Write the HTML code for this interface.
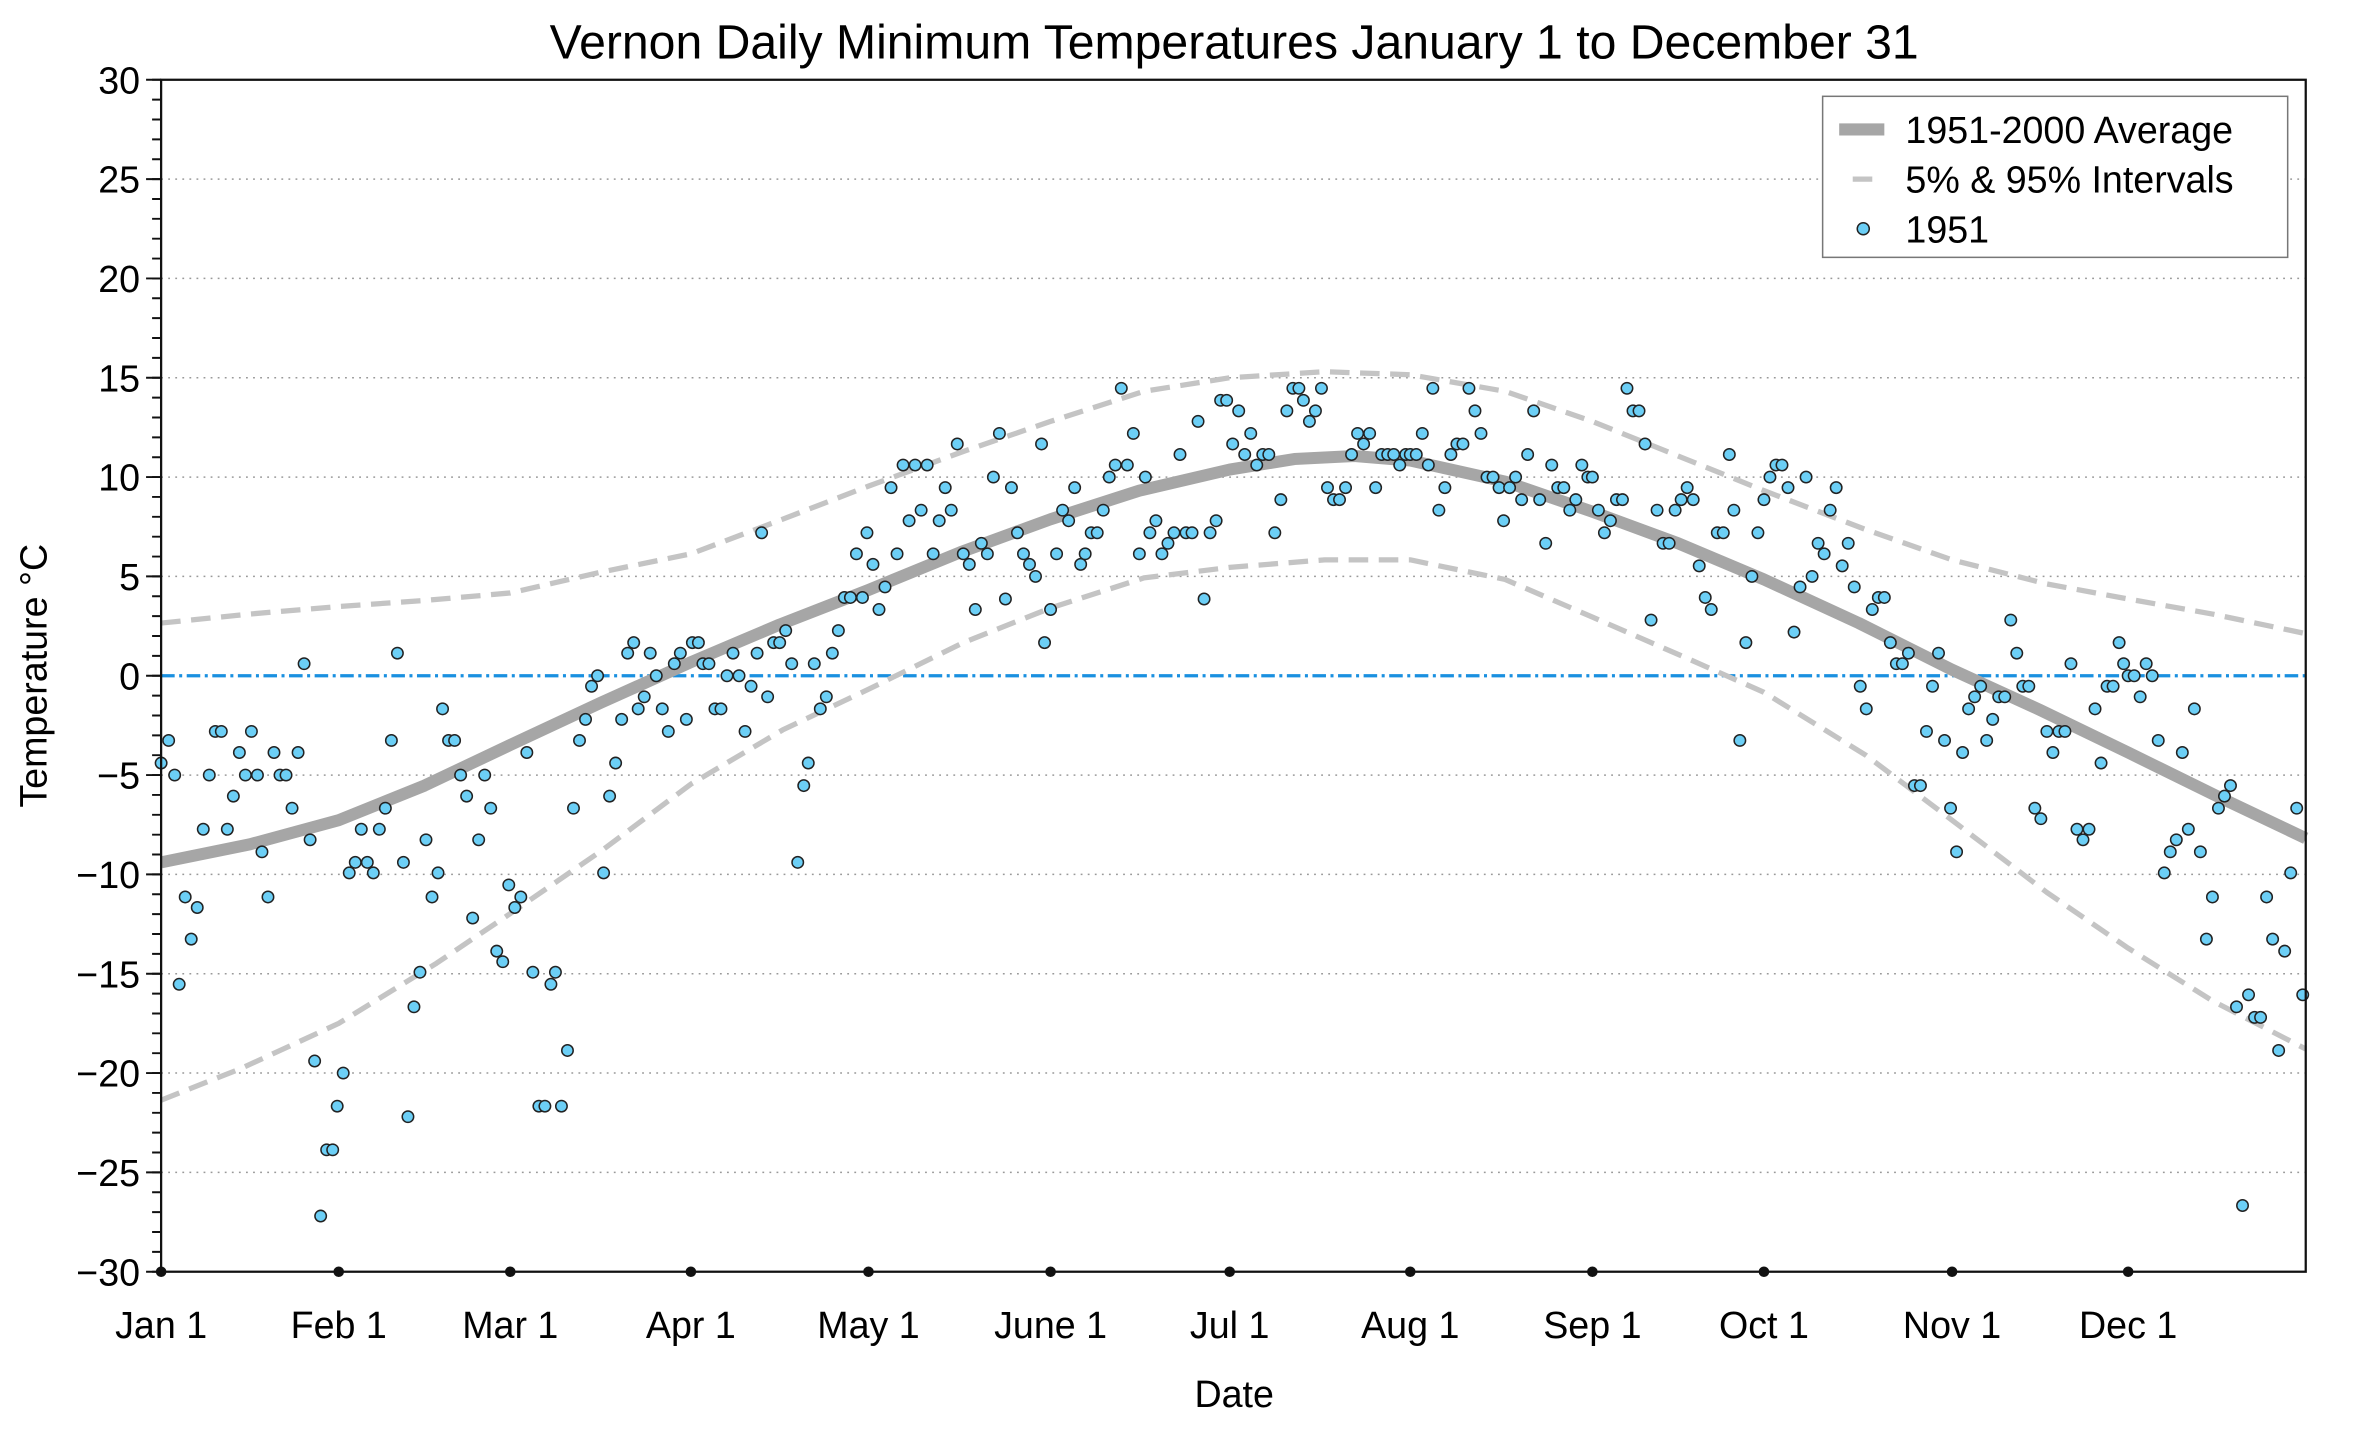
<!DOCTYPE html>
<html><head><meta charset="utf-8"><style>
html,body{margin:0;padding:0;background:#fff;}
svg{display:block;font-family:"Liberation Sans",Arial,sans-serif;}
</style></head><body>
<svg width="2360" height="1432" viewBox="0 0 1568 951.5" xmlns="http://www.w3.org/2000/svg">
<defs>
<marker id="m" markerUnits="userSpaceOnUse" markerWidth="12" markerHeight="12" refX="6" refY="6" overflow="visible">
<circle cx="6" cy="6" r="3.8" fill="#6ccff6" stroke="#222" stroke-width="1"/>
</marker>
</defs>
<rect width="1568" height="951.5" fill="#fff"/>
<text x="820" y="39" font-size="32" text-anchor="middle">Vernon Daily Minimum Temperatures January 1 to December 31</text>
<g stroke="#999" stroke-width="1" stroke-dasharray="1.2,3.5">
<line x1="107" y1="119" x2="1532" y2="119"/><line x1="107" y1="185" x2="1532" y2="185"/><line x1="107" y1="251" x2="1532" y2="251"/><line x1="107" y1="317" x2="1532" y2="317"/><line x1="107" y1="383" x2="1532" y2="383"/><line x1="107" y1="515" x2="1532" y2="515"/><line x1="107" y1="581" x2="1532" y2="581"/><line x1="107" y1="647" x2="1532" y2="647"/><line x1="107" y1="713" x2="1532" y2="713"/><line x1="107" y1="779" x2="1532" y2="779"/>
</g>
<line x1="107" y1="449" x2="1532" y2="449" stroke="#1a90e0" stroke-width="2.2" stroke-dasharray="9,3,2,3"/>
<polyline fill="none" stroke="#c4c4c4" stroke-width="3.5" stroke-dasharray="13,7" stroke-linejoin="round" points="107,414 166,408 225,403 282,399 339,394 400,380 459,368 520,345 577,323 640,300 698,280 760,260 817,251 880,247 937,249 1000,260 1058,280 1120,305 1172,326 1240,352 1297,372 1360,388 1414,398 1470,408 1532,421"/>
<polyline fill="none" stroke="#c4c4c4" stroke-width="3.5" stroke-dasharray="13,7" stroke-linejoin="round" points="107,731 160,710 225,680 290,640 339,607 400,565 459,521 520,485 577,458 640,427 698,404 760,384 817,377 880,372 937,372 1000,385 1058,410 1120,437 1172,460 1240,502 1297,545 1360,593 1414,630 1470,665 1532,697"/>
<polyline fill="none" stroke="#a6a6a6" stroke-width="8" stroke-linejoin="round" points="107,573 166,561 225,545 282,522 339,495 399,467 459,440 518,415 577,392 638,367 698,345 757,326 817,312 860,305 900,303 937,306 1000,320 1058,340 1115,361 1172,385 1235,414 1297,445 1356,472 1414,500 1473,529 1532,557"/>
<polyline fill="none" stroke="none" marker-start="url(#m)" marker-mid="url(#m)" marker-end="url(#m)" points="107,507 112,492 116,515 119,654 123,596 127,624 131,603 135,551 139,515 143,486 147,486 151,551 155,529 159,500 163,515 167,486 171,515 174,566 178,596 182,500 186,515 190,515 194,537 198,500 202,441 206,558 209,705 213,808 217,764 221,764 224,735 228,713 232,580 236,573 240,551 244,573 248,580 252,551 256,537 260,492 264,434 268,573 271,742 275,669 279,646 283,558 287,596 291,580 294,471 298,492 302,492 306,515 310,529 314,610 318,558 322,515 326,537 330,632 334,639 338,588 342,603 346,596 350,500 354,646 358,735 362,735 366,654 369,646 373,735 377,698 381,537 385,492 389,478 393,456 397,449 401,580 405,529 409,507 413,478 417,434 421,427 424,471 428,463 432,434 436,449 440,471 444,486 448,441 452,434 456,478 460,427 464,427 467,441 471,441 475,471 479,471 483,449 487,434 491,449 495,486 499,456 503,434 506,354 510,463 514,427 518,427 522,419 526,441 530,573 534,522 537,507 541,441 545,471 549,463 553,434 557,419 561,397 565,397 569,368 573,397 576,354 580,375 584,405 588,390 592,324 596,368 600,309 604,346 608,309 612,339 616,309 620,368 624,346 628,324 632,339 636,295 640,368 644,375 648,405 652,361 656,368 660,317 664,288 668,398 672,324 676,354 680,368 684,375 688,383 692,295 694,427 698,405 702,368 706,339 710,346 714,324 718,375 721,368 725,354 729,354 733,339 737,317 741,309 745,258 749,309 753,288 757,368 761,317 764,354 768,346 772,368 776,361 780,354 784,302 788,354 792,354 796,280 800,398 804,354 808,346 811,266 815,266 819,295 823,273 827,302 831,288 835,309 839,302 843,302 847,354 851,332 855,273 859,258 863,258 866,266 870,280 874,273 878,258 882,324 886,332 890,332 894,324 898,302 902,288 906,295 910,288 914,324 918,302 922,302 926,302 930,309 934,302 937,302 941,302 945,288 949,309 952,258 956,339 960,324 964,302 968,295 972,295 976,258 980,273 984,288 988,317 992,317 996,324 999,346 1003,324 1007,317 1011,332 1015,302 1019,273 1023,332 1027,361 1031,309 1035,324 1039,324 1043,339 1047,332 1051,309 1055,317 1058,317 1062,339 1066,354 1070,346 1074,332 1078,332 1081,258 1085,273 1089,273 1093,295 1097,412 1101,339 1105,361 1109,361 1113,339 1117,332 1121,324 1125,332 1129,376 1133,397 1137,405 1141,354 1145,354 1149,302 1152,339 1156,492 1160,427 1164,383 1168,354 1172,332 1176,317 1180,309 1184,309 1188,324 1192,420 1196,390 1200,317 1204,383 1208,361 1212,368 1216,339 1220,324 1224,376 1228,361 1232,390 1236,456 1240,471 1244,405 1248,397 1252,397 1256,427 1260,441 1264,441 1268,434 1272,522 1276,522 1280,486 1284,456 1288,434 1292,492 1296,537 1300,566 1304,500 1308,471 1312,463 1316,456 1320,492 1324,478 1328,463 1332,463 1336,412 1340,434 1344,456 1348,456 1352,537 1356,544 1360,486 1364,500 1368,486 1372,486 1376,441 1380,551 1384,558 1388,551 1392,471 1396,507 1400,456 1404,456 1408,427 1411,441 1414,449 1418,449 1422,463 1426,441 1430,449 1434,492 1438,580 1442,566 1446,558 1450,500 1454,551 1458,471 1462,566 1466,624 1470,596 1474,537 1478,529 1482,522 1486,669 1490,801 1494,661 1498,676 1502,676 1506,596 1510,624 1514,698 1518,632 1522,580 1526,537 1530,661"/>
<rect x="107" y="53" width="1425" height="792" fill="none" stroke="#111" stroke-width="1.5"/>
<line x1="104" y1="52.35" x2="104" y2="846" stroke="#111" stroke-width="6" stroke-dasharray="1.3 11.9"/>
<line x1="102" y1="52.35" x2="102" y2="846" stroke="#111" stroke-width="10" stroke-dasharray="1.3 64.7"/>
<g font-size="25" text-anchor="end">
<text x="93" y="62">30</text><text x="93" y="128">25</text><text x="93" y="194">20</text><text x="93" y="260">15</text><text x="93" y="326">10</text><text x="93" y="392">5</text><text x="93" y="458">0</text><text x="93" y="524">−5</text><text x="93" y="590">−10</text><text x="93" y="656">−15</text><text x="93" y="722">−20</text><text x="93" y="788">−25</text><text x="93" y="854">−30</text>
</g>
<g font-size="25" text-anchor="middle">
<text x="107" y="889">Jan 1</text><text x="225" y="889">Feb 1</text><text x="339" y="889">Mar 1</text><text x="459" y="889">Apr 1</text><text x="577" y="889">May 1</text><text x="698" y="889">June 1</text><text x="817" y="889">Jul 1</text><text x="937" y="889">Aug 1</text><text x="1058" y="889">Sep 1</text><text x="1172" y="889">Oct 1</text><text x="1297" y="889">Nov 1</text><text x="1414" y="889">Dec 1</text>
</g>
<g fill="#111">
<circle cx="107" cy="845" r="3.5"/><circle cx="225" cy="845" r="3.5"/><circle cx="339" cy="845" r="3.5"/><circle cx="459" cy="845" r="3.5"/><circle cx="577" cy="845" r="3.5"/><circle cx="698" cy="845" r="3.5"/><circle cx="817" cy="845" r="3.5"/><circle cx="937" cy="845" r="3.5"/><circle cx="1058" cy="845" r="3.5"/><circle cx="1172" cy="845" r="3.5"/><circle cx="1297" cy="845" r="3.5"/><circle cx="1414" cy="845" r="3.5"/>
</g>
<text x="820" y="935" font-size="25" text-anchor="middle">Date</text>
<text transform="translate(31,449) rotate(-90)" font-size="25" text-anchor="middle">Temperature °C</text>
<rect x="1211" y="64" width="309" height="107" fill="#fff" stroke="#777" stroke-width="1"/>
<line x1="1222" y1="86" x2="1252" y2="86" stroke="#a6a6a6" stroke-width="8"/>
<line x1="1231" y1="119" x2="1244" y2="119" stroke="#c4c4c4" stroke-width="3.5"/>
<circle cx="1238" cy="152" r="4" fill="#6ccff6" stroke="#222" stroke-width="1"/>
<g font-size="25"><text x="1266" y="95">1951-2000 Average</text><text x="1266" y="128">5% &amp; 95% Intervals</text><text x="1266" y="161">1951</text></g>
</svg>
</body></html>
